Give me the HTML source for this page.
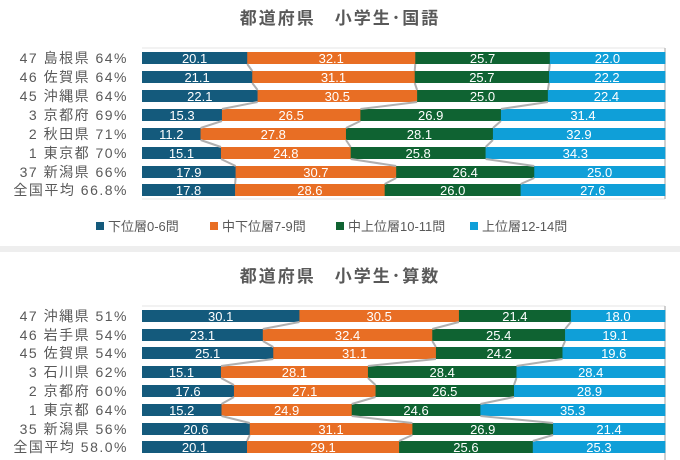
<!DOCTYPE html>
<html><head><meta charset="utf-8"><style>
html,body{margin:0;padding:0;background:#fff;}
svg{display:block;font-family:"Liberation Sans","Noto Sans CJK JP",sans-serif;}
</style></head><body>
<svg id="s" width="680" height="460" viewBox="0 0 680 460" xmlns="http://www.w3.org/2000/svg">
<rect x="0" y="246" width="680" height="6" fill="#eee"/>
<text x="340" y="24" text-anchor="middle" font-size="17" font-weight="bold" fill="#595959" letter-spacing="2">都道府県　小学生･国語</text>
<text x="340" y="282" text-anchor="middle" font-size="17" font-weight="bold" fill="#595959" letter-spacing="2">都道府県　小学生･算数</text>
<line x1="142" y1="48" x2="665" y2="48" stroke="#e4e4e4"/>
<line x1="142" y1="199" x2="665" y2="199" stroke="#e4e4e4"/>
<line x1="142" y1="306" x2="665" y2="306" stroke="#e4e4e4"/>
<line x1="665" y1="48" x2="665" y2="199" stroke="#c0c0c0" stroke-width="1.5"/>
<line x1="665" y1="306" x2="665" y2="460" stroke="#c0c0c0" stroke-width="1.5"/>
<g font-size="13">
<rect x="96" y="222" width="8" height="8" fill="#145a7c"/><text x="108" y="231" fill="#595959">下位層0-6問</text>
<rect x="210" y="222" width="8" height="8" fill="#e86e24"/><text x="222" y="231" fill="#595959">中下位層7-9問</text>
<rect x="336" y="222" width="8" height="8" fill="#0f6332"/><text x="348" y="231" fill="#595959">中上位層10-11問</text>
<rect x="470" y="222" width="8" height="8" fill="#0f9fd8"/><text x="482" y="231" fill="#595959">上位層12-14問</text>
</g>
<g id="c"></g>
</svg>
<script>
var cols=["#145a7c","#e86e24","#0f6332","#0f9fd8"];
var charts=[
{ys:[58,77,96,115,134,153,172,190],labels:["47 島根県 64%","46 佐賀県 64%","45 沖縄県 64%","3 京都府 69%","2 秋田県 71%","1 東京都 70%","37 新潟県 66%","全国平均 66.8%"],
d:[[20.1,32.1,25.7,22.0],[21.1,31.1,25.7,22.2],[22.1,30.5,25.0,22.4],[15.3,26.5,26.9,31.4],[11.2,27.8,28.1,32.9],[15.1,24.8,25.8,34.3],[17.9,30.7,26.4,25.0],[17.8,28.6,26.0,27.6]]},
{ys:[316,335,353,372,391,410,429,447],labels:["47 沖縄県 51%","46 岩手県 54%","45 佐賀県 54%","3 石川県 62%","2 京都府 60%","1 東京都 64%","35 新潟県 56%","全国平均 58.0%"],
d:[[30.1,30.5,21.4,18.0],[23.1,32.4,25.4,19.1],[25.1,31.1,24.2,19.6],[15.1,28.1,28.4,28.4],[17.6,27.1,26.5,28.9],[15.2,24.9,24.6,35.3],[20.6,31.1,26.9,21.4],[20.1,29.1,25.6,25.3]]}];
var x0=142,W=523,h=12,out="";
charts.forEach(function(c){
 var bounds=[];
 c.d.forEach(function(r,i){
  var tot=r.reduce(function(a,b){return a+b},0),x=x0,y=c.ys[i]-h/2,b=[];
  r.forEach(function(v,j){var w=v/tot*W;
   out+='<rect x="'+x+'" y="'+y+'" width="'+(w+0.3)+'" height="'+h+'" fill="'+cols[j]+'"/>';
   out+='<text x="'+(x+w/2)+'" y="'+(c.ys[i]+5)+'" text-anchor="middle" font-size="13" fill="#fff">'+v.toFixed(1)+'</text>';
   x+=w;b.push(x);});
  bounds.push(b);
  out+='<text x="128" y="'+(c.ys[i]+5)+'" text-anchor="end" font-size="14" fill="#595959" letter-spacing="1.5">'+c.labels[i]+'</text>';
 });
 for(var i=0;i<bounds.length-1;i++)for(var j=0;j<3;j++){
  out+='<line x1="'+bounds[i][j]+'" y1="'+(c.ys[i]+h/2)+'" x2="'+bounds[i+1][j]+'" y2="'+(c.ys[i+1]-h/2)+'" stroke="#b0b0b0" stroke-width="2"/>';
 }
});
document.getElementById("c").innerHTML=out;
</script>
</body></html>
